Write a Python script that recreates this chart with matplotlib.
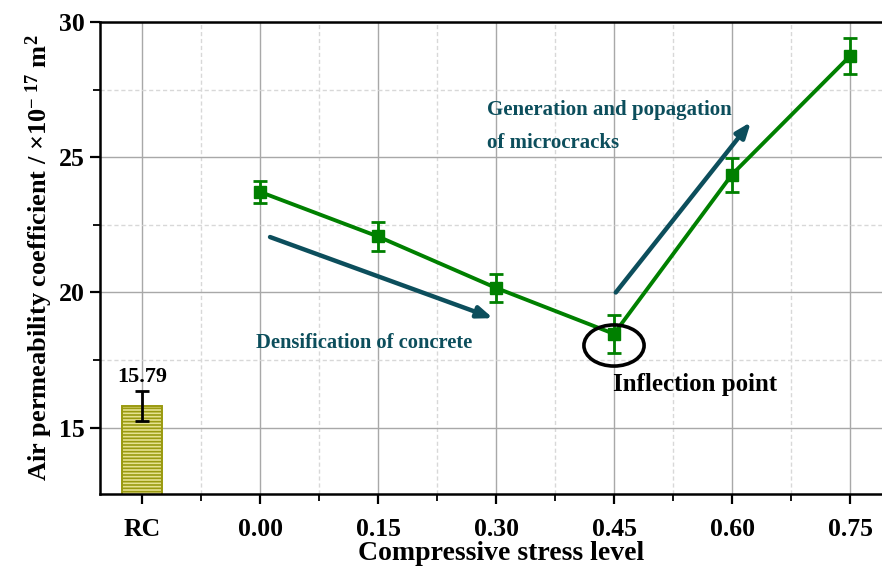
import matplotlib
matplotlib.use("Agg")
import matplotlib.pyplot as plt
from matplotlib.patches import Ellipse
from matplotlib.ticker import MultipleLocator, FixedLocator

plt.rcParams['font.family'] = ['Liberation Serif', 'DejaVu Serif']
plt.rcParams['font.weight'] = 'bold'
plt.rcParams['mathtext.fontset'] = 'custom'
plt.rcParams['mathtext.rm'] = 'Liberation Serif:bold'
plt.rcParams['mathtext.it'] = 'Liberation Serif:bold'
plt.rcParams['mathtext.bf'] = 'Liberation Serif:bold'
plt.rcParams['hatch.linewidth'] = 1.2
plt.rcParams['hatch.color'] = '#8f8f00'

categories = ["RC", "0.00", "0.15", "0.30", "0.45", "0.60", "0.75"]
rc_value = 15.79
rc_err = 0.55
line_values = [23.72, 22.07, 20.17, 18.47, 24.36, 28.74]
line_errs = [0.42, 0.52, 0.52, 0.70, 0.63, 0.67]

W, H = 882, 574
fig = plt.figure(figsize=(W/100, H/100), dpi=100)
xl, xr = -0.356, 6.45
left_px, top_px, bot_px = 100, 22, 494
right_px = 142 + 118 * xr
ax = fig.add_axes([left_px/W, 1 - bot_px/H, (right_px-left_px)/W, (bot_px-top_px)/H])

x_idx = list(range(len(categories)))

# grid
ax.set_xlim(xl, xr)
ax.set_ylim(12.55, 30)
ax.xaxis.set_major_locator(FixedLocator(x_idx))
ax.xaxis.set_minor_locator(FixedLocator([i + 0.5 for i in x_idx]))
ax.yaxis.set_major_locator(MultipleLocator(5))
ax.yaxis.set_minor_locator(MultipleLocator(2.5))
ax.grid(which='major', color='#a8a8a8', linewidth=1.0, linestyle='-', zorder=0)
ax.grid(which='minor', color='#d8d8d8', linewidth=1.0, linestyle=(0, (3, 2)), zorder=0)
ax.set_axisbelow(True)

# RC bar
ax.bar([0], [rc_value], width=0.34, color='#e6e290', edgecolor='#9a9a10',
       hatch='-----', linewidth=1.4, zorder=2)
ax.errorbar([0], [rc_value], yerr=[rc_err], fmt='none', ecolor='black',
            elinewidth=2.0, capsize=5, capthick=2.0, zorder=3)
ax.text(0, rc_value + rc_err + 0.15, "15.79", ha='center', va='bottom',
        fontsize=16, fontweight='bold', color='black', zorder=4)

# line series
ax.errorbar(x_idx[1:], line_values, yerr=line_errs, color='#008000', lw=2.8,
            marker='s', markersize=9, ecolor='#008000', elinewidth=2.0,
            capsize=5, capthick=2.0, zorder=5)

teal = '#0c4e5c'
ax.annotate("", xy=(2.975, 19.05), xytext=(1.085, 22.05),
            arrowprops=dict(arrowstyle='-|>,head_length=0.9,head_width=0.35',
                            color=teal, lw=3.2, shrinkA=0, shrinkB=0), zorder=6)
ax.annotate("", xy=(5.16, 26.3), xytext=(4.015, 20.0),
            arrowprops=dict(arrowstyle='-|>,head_length=0.9,head_width=0.35',
                            color=teal, lw=3.2, shrinkA=0, shrinkB=0), zorder=6)

ax.text(1.88, 18.15, "Densification of concrete", ha='center', va='center',
        fontsize=14.8, fontweight='bold', color=teal)
ax.text(2.92, 26.74, "Generation and popagation", ha='left', va='center',
        fontsize=15, fontweight='bold', color=teal)
ax.text(2.92, 25.52, "of microcracks", ha='left', va='center',
        fontsize=15, fontweight='bold', color=teal)
ax.text(3.99, 16.6, "Inflection point", ha='left', va='center',
        fontsize=17.9, fontweight='bold', color='black')

ax.add_patch(Ellipse((4.0, 18.04), width=0.51, height=1.52, fill=False,
                     edgecolor='black', lw=2.6, zorder=7))

# axes styling
for s in ['left', 'bottom', 'top']:
    ax.spines[s].set_linewidth(1.8)
    ax.spines[s].set_color('black')
ax.spines['right'].set_visible(False)
ax.tick_params(which='major', direction='out', length=7, width=1.6,
               labelsize=18.5, pad=4)
ax.tick_params(which='minor', direction='out', length=5, width=1.3)
ax.tick_params(axis='x', which='major', pad=10)
ax.set_xticklabels(categories, fontweight='bold')
for lab in ax.get_yticklabels():
    lab.set_fontweight('bold')

ax.set_xlabel("Compressive stress level", fontsize=20, fontweight='bold', labelpad=0)
ax.set_ylabel("Air permeability coefficient / ×10$^{\\mathregular{-\\ 17}}$ m$^{\\mathregular{2}}$",
              fontsize=19, fontweight='bold', labelpad=3)

fig.savefig("out.png", dpi=100)
